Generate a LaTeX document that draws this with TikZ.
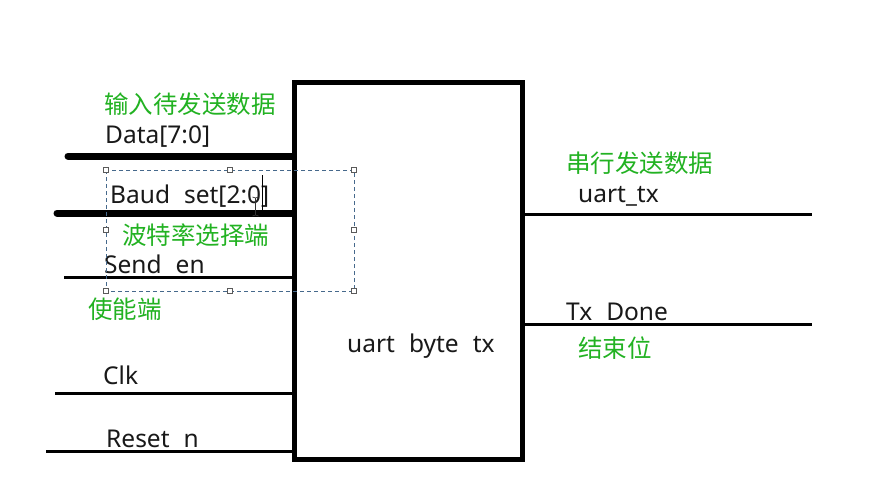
\documentclass[tikz,border=0pt]{standalone}
\usepackage{fontspec}
\setmainfont{Noto Sans}[WordSpace=2.2]
\newfontfamily\cjk{Noto Sans CJK SC}
\definecolor{cngreen}{RGB}{34,178,34}
\definecolor{selblue}{RGB}{70,105,140}
\definecolor{handlegray}{RGB}{90,90,90}
\definecolor{ink}{RGB}{25,25,25}
\tikzset{
  lbl/.style={anchor=base west, inner sep=0pt, text=ink, font=\fontsize{24.5}{26}\selectfont},
  cnlbl/.style={anchor=base west, inner sep=0pt, text=cngreen, font=\cjk\fontsize{24.5}{26}\selectfont},
  busline/.style={line width=7pt, line cap=round},
  sigline/.style={line width=3pt},
  handle/.style={draw=handlegray, fill=white, line width=0.6pt, minimum size=4.5pt, inner sep=0pt, rectangle},
  selbox/.style={draw=selblue, line width=0.9pt, dash pattern=on 4pt off 3pt}
}
\begin{document}
\begin{tikzpicture}[x=1pt,y=-1pt]
\useasboundingbox (0,0) rectangle (872,490);
\fill[white] (0,0) rectangle (872,490);

% main block
\node[draw, line width=5pt, minimum width=228pt, minimum height=377pt, inner sep=0pt] (box) at (408,271) {};
\node[lbl] (name) at (347,352) {uart byte tx};

% free ends of the connectors
\coordinate (dataL) at (68,156);
\coordinate (baudL) at (57,213);
\coordinate (sendL) at (64,277);
\coordinate (clkL) at (55,393);
\coordinate (rstL) at (46,451);
\coordinate (txR) at (812,214);
\coordinate (doneR) at (812,324);

% input connectors
\draw[busline] (dataL) -- (dataL -| box.west);
\draw[busline] (baudL) -- (baudL -| box.west);
\draw[sigline] (sendL) -- (sendL -| box.west);
\draw[sigline] (clkL) -- (clkL -| box.west);
\draw[sigline] (rstL) -- (rstL -| box.west);

% output connectors
\draw[sigline] (box.east |- txR) -- (txR);
\draw[sigline] (box.east |- doneR) -- (doneR);

% input labels
\node[cnlbl] (cnData) at (104,113) {输入待发送数据};
\node[lbl] (lData) at (105,143) {Data[7:0]};
\node[lbl] (lBaud) at (110,203) {Baud set[2:0]};
\node[cnlbl] (cnBaud) at (122,244) {波特率选择端};
\node[lbl] (lSend) at (104,273) {Send en};
\node[cnlbl] (cnSend) at (88,318) {使能端};
\node[lbl] (lClk) at (103,384) {Clk};
\node[lbl] (lRst) at (106,447) {Reset n};

% output labels
\node[cnlbl] (cnTx) at (566,172) {串行发送数据};
\node[lbl] (lTx) at (578,202) {uart\_tx};
\node[lbl] (lDone) at (566,320) {Tx Done};
\node[cnlbl] (cnDone) at (578,357) {结束位};

% selection frame with handles
\draw[selbox] (106,170) rectangle (354,291);
\foreach \n/\x/\y in {h1/106/170, h2/230/170, h3/354/170, h4/106/230, h5/354/230, h6/106/291, h7/230/291, h8/354/291}
  \node[handle] (\n) at (\x,\y) {};

% text caret and mouse I-beam
\draw[line width=0.8pt] (262,175) -- (262,217);
\draw[line width=0.7pt, black!80] (255.5,198) -- (255.5,215) (252.5,197) -- (255.5,198) -- (258.5,197) (252.5,216) -- (255.5,215) -- (258.5,216);
\end{tikzpicture}
\end{document}
